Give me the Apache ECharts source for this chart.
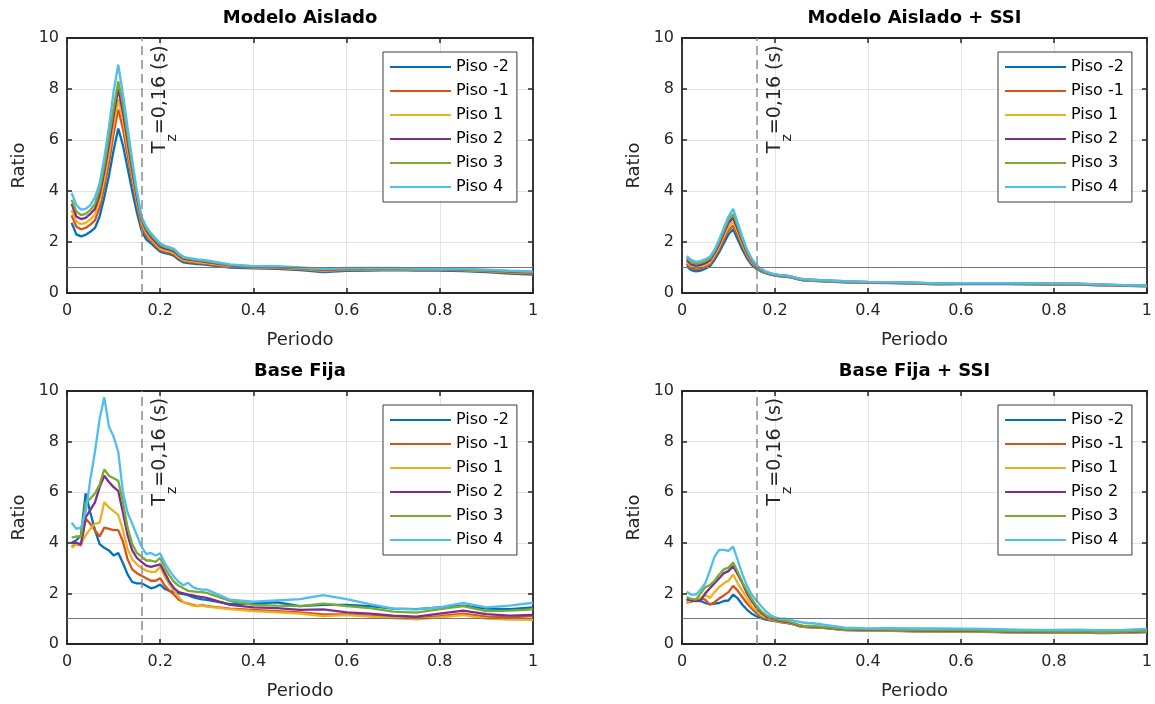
<!DOCTYPE html>
<html>
<head>
<meta charset="utf-8">
<script src="https://cdn.jsdelivr.net/npm/echarts@6/dist/echarts.min.js"></script>
<style>
html,body{margin:0;padding:0;background:#fff;}
#c{width:1155px;height:704px;}
</style>
</head>
<body>
<div id="c"></div>
<script>
// ---------------- data ----------------
const periods = [0.01,0.02,0.03,0.04,0.05,0.06,0.07,0.08,0.09,0.10,
  0.11,0.12,0.13,0.14,0.15,0.16,0.17,0.18,0.19,0.20,
  0.21,0.22,0.23,0.24,0.25,0.26,0.27,0.28,0.29,0.30,
  0.35,0.40,0.45,0.50,0.55,0.60,0.65,0.70,0.75,0.80,0.85,0.90,0.95,1.00];

const floorNames = ['Piso -2','Piso -1','Piso 1','Piso 2','Piso 3','Piso 4'];
const floorColors = ['#0072BD','#D95319','#EDB120','#7E2F8E','#77AC30','#4DBEEE'];
const panelTitles = ['Modelo Aislado','Modelo Aislado + SSI','Base Fija','Base Fija + SSI'];
const xTicks = [0,0.2,0.4,0.6,0.8,1];
const yTicks = [0,2,4,6,8,10];
const tzPeriod = 0.16;
const refRatio = 1;
const tzLabel = '{t|T}{s|z}{t|=0,16 (s)}';
const tzLabelAt = [0.2, 7.6];

// Modelo Aislado (rows follow floorNames)
const aislado = [
 [2.75,2.30,2.22,2.28,2.40,2.55,3.00,3.75,4.60,5.60, 6.45,5.80,4.90,4.00,3.15,2.45,2.10,1.95,1.78,1.62, 1.56,1.52,1.45,1.30,1.20,1.17,1.15,1.13,1.12,1.10, 1.00,0.97,0.95,0.90,0.82,0.87,0.88,0.90,0.88,0.88,0.86,0.82,0.76,0.72],
 [3.05,2.60,2.50,2.55,2.68,2.85,3.35,4.15,5.10,6.25, 7.20,6.45,5.40,4.40,3.45,2.62,2.25,2.05,1.85,1.68, 1.62,1.58,1.50,1.35,1.25,1.22,1.20,1.18,1.16,1.14, 1.03,1.00,0.98,0.93,0.86,0.90,0.91,0.93,0.91,0.91,0.89,0.85,0.79,0.75],
 [3.25,2.80,2.70,2.75,2.88,3.08,3.60,4.45,5.45,6.60, 7.60,6.80,5.70,4.60,3.60,2.75,2.35,2.12,1.92,1.74, 1.67,1.63,1.56,1.40,1.29,1.26,1.24,1.21,1.19,1.17, 1.05,1.01,1.00,0.95,0.88,0.92,0.93,0.94,0.92,0.92,0.90,0.87,0.82,0.78],
 [3.50,3.00,2.90,2.95,3.10,3.30,3.85,4.75,5.80,6.95, 8.00,7.10,5.95,4.80,3.75,2.85,2.45,2.20,2.00,1.82, 1.74,1.70,1.63,1.46,1.34,1.31,1.29,1.26,1.24,1.21, 1.08,1.03,1.02,0.97,0.91,0.94,0.95,0.96,0.94,0.94,0.92,0.89,0.84,0.80],
 [3.65,3.20,3.05,3.10,3.25,3.50,4.05,5.00,6.10,7.25, 8.30,7.40,6.20,5.00,3.88,2.92,2.52,2.28,2.07,1.88, 1.80,1.75,1.68,1.51,1.38,1.35,1.32,1.29,1.27,1.24, 1.10,1.04,1.03,0.98,0.93,0.96,0.96,0.97,0.95,0.95,0.93,0.90,0.86,0.82],
 [3.92,3.45,3.27,3.30,3.45,3.75,4.30,5.30,6.50,7.90, 8.95,7.80,6.50,5.20,4.00,3.00,2.60,2.35,2.15,1.95, 1.85,1.80,1.72,1.55,1.42,1.38,1.35,1.32,1.30,1.28, 1.12,1.05,1.05,1.00,0.95,0.98,0.98,0.98,0.96,0.96,0.95,0.92,0.88,0.85]
];

// Modelo Aislado + SSI
const aisladoSSI = [
 [1.05,0.90,0.85,0.88,0.95,1.05,1.30,1.60,1.95,2.30, 2.50,2.10,1.70,1.35,1.10,0.95,0.85,0.78,0.72,0.68, 0.65,0.64,0.62,0.58,0.53,0.50,0.49,0.48,0.47,0.46, 0.42,0.40,0.39,0.37,0.34,0.35,0.35,0.35,0.34,0.33,0.33,0.30,0.28,0.26],
 [1.15,0.98,0.93,0.96,1.03,1.13,1.40,1.72,2.10,2.45, 2.65,2.25,1.82,1.44,1.16,0.99,0.88,0.80,0.74,0.70, 0.67,0.66,0.64,0.59,0.54,0.51,0.50,0.49,0.48,0.47, 0.43,0.41,0.40,0.38,0.35,0.36,0.36,0.36,0.35,0.34,0.34,0.31,0.29,0.27],
 [1.22,1.05,1.00,1.03,1.10,1.20,1.48,1.82,2.22,2.60, 2.80,2.38,1.92,1.52,1.22,1.02,0.90,0.82,0.75,0.71, 0.68,0.67,0.65,0.60,0.55,0.52,0.51,0.50,0.49,0.48, 0.44,0.42,0.41,0.39,0.36,0.37,0.37,0.37,0.36,0.35,0.35,0.32,0.29,0.27],
 [1.30,1.12,1.07,1.10,1.17,1.28,1.56,1.92,2.35,2.75, 2.95,2.50,2.02,1.58,1.27,1.05,0.92,0.83,0.76,0.72, 0.69,0.68,0.66,0.61,0.56,0.53,0.52,0.51,0.50,0.49, 0.45,0.43,0.42,0.40,0.37,0.38,0.38,0.38,0.37,0.36,0.36,0.33,0.30,0.28],
 [1.38,1.20,1.15,1.18,1.25,1.35,1.63,2.02,2.45,2.88, 3.10,2.62,2.10,1.64,1.31,1.08,0.94,0.84,0.77,0.73, 0.70,0.69,0.66,0.62,0.57,0.54,0.53,0.52,0.51,0.50, 0.46,0.44,0.43,0.41,0.38,0.39,0.39,0.39,0.38,0.37,0.37,0.34,0.31,0.29],
 [1.45,1.30,1.22,1.25,1.32,1.42,1.70,2.10,2.55,3.00, 3.30,2.75,2.20,1.70,1.35,1.10,0.95,0.85,0.78,0.74, 0.70,0.69,0.67,0.62,0.57,0.54,0.53,0.52,0.51,0.50, 0.46,0.44,0.43,0.41,0.38,0.39,0.39,0.39,0.38,0.38,0.37,0.34,0.31,0.29]
];

// Base Fija
const baseFija = [
 [4.00,4.10,4.30,5.95,5.20,4.50,3.95,3.80,3.70,3.50, 3.60,3.20,2.75,2.45,2.40,2.40,2.30,2.20,2.25,2.35, 2.18,2.10,2.05,2.00,1.97,1.93,1.85,1.80,1.76,1.74, 1.58,1.60,1.65,1.50,1.55,1.55,1.50,1.40,1.38,1.45,1.52,1.40,1.38,1.45],
 [3.85,3.95,3.90,4.95,4.75,4.50,4.25,4.60,4.55,4.50, 4.50,4.05,3.35,2.95,2.80,2.70,2.60,2.50,2.50,2.60, 2.30,2.10,1.95,1.75,1.65,1.60,1.55,1.50,1.55,1.50, 1.40,1.35,1.30,1.25,1.17,1.17,1.12,1.08,1.02,1.10,1.20,1.08,1.05,1.10],
 [3.80,3.95,3.95,4.30,4.55,4.75,4.80,5.60,5.40,5.25, 5.10,4.50,3.75,3.35,3.15,3.00,2.90,2.85,2.85,3.05, 2.65,2.35,2.10,1.85,1.65,1.58,1.52,1.50,1.53,1.48, 1.38,1.30,1.25,1.20,1.10,1.14,1.08,1.02,0.97,1.05,1.14,1.00,0.96,0.95],
 [4.00,4.00,3.95,5.00,5.30,5.60,6.20,6.65,6.40,6.20, 6.05,5.20,4.30,3.70,3.40,3.25,3.10,3.05,3.10,3.15, 2.80,2.45,2.20,2.05,2.00,1.95,1.92,1.88,1.85,1.82, 1.55,1.45,1.42,1.35,1.37,1.25,1.20,1.12,1.08,1.20,1.32,1.18,1.12,1.15],
 [4.20,4.25,4.25,5.60,5.75,5.95,6.30,6.90,6.65,6.55, 6.45,5.60,4.60,3.95,3.60,3.45,3.30,3.30,3.25,3.40, 3.00,2.70,2.45,2.30,2.20,2.10,2.08,2.06,2.05,2.02, 1.70,1.55,1.52,1.50,1.60,1.50,1.42,1.28,1.24,1.38,1.50,1.30,1.32,1.37],
 [4.80,4.55,4.60,5.20,6.50,7.60,8.90,9.75,8.60,8.20, 7.60,6.00,5.20,4.75,4.30,3.85,3.55,3.60,3.50,3.58, 3.20,2.90,2.65,2.45,2.32,2.42,2.25,2.18,2.15,2.15, 1.75,1.67,1.72,1.77,1.93,1.77,1.58,1.40,1.37,1.45,1.63,1.45,1.52,1.63]
];

// Base Fija + SSI
const baseFijaSSI = [
 [1.70,1.68,1.72,1.70,1.62,1.58,1.60,1.62,1.70,1.72, 1.95,1.80,1.55,1.35,1.20,1.10,1.02,0.96,0.93,0.90, 0.87,0.85,0.82,0.78,0.72,0.68,0.67,0.66,0.66,0.65, 0.55,0.53,0.52,0.50,0.49,0.50,0.48,0.46,0.45,0.44,0.45,0.43,0.44,0.47],
 [1.62,1.68,1.72,1.80,1.75,1.55,1.65,1.80,1.92,2.05, 2.30,2.10,1.85,1.60,1.40,1.22,1.08,1.00,0.95,0.91, 0.88,0.86,0.83,0.78,0.72,0.68,0.67,0.66,0.66,0.65, 0.56,0.54,0.53,0.51,0.50,0.51,0.49,0.47,0.46,0.45,0.46,0.44,0.45,0.48],
 [1.65,1.70,1.75,1.82,1.95,1.82,2.05,2.25,2.40,2.50, 2.75,2.40,2.10,1.80,1.50,1.32,1.15,1.05,0.98,0.93, 0.89,0.87,0.84,0.79,0.73,0.69,0.68,0.67,0.67,0.66, 0.56,0.54,0.53,0.51,0.50,0.51,0.49,0.47,0.46,0.45,0.46,0.44,0.45,0.48],
 [1.78,1.72,1.70,1.72,2.00,2.20,2.40,2.60,2.80,2.88, 3.08,2.75,2.40,2.00,1.70,1.45,1.25,1.10,1.02,0.96, 0.91,0.89,0.86,0.81,0.75,0.71,0.70,0.69,0.68,0.67, 0.58,0.56,0.55,0.53,0.52,0.53,0.51,0.49,0.48,0.47,0.48,0.46,0.47,0.50],
 [1.85,1.78,1.75,2.00,2.25,2.33,2.50,2.75,2.95,3.02, 3.22,2.85,2.45,2.10,1.78,1.52,1.30,1.15,1.05,0.99, 0.94,0.92,0.88,0.83,0.77,0.73,0.72,0.71,0.70,0.69, 0.60,0.58,0.57,0.55,0.54,0.55,0.53,0.51,0.50,0.49,0.50,0.48,0.49,0.52],
 [2.07,1.95,1.95,2.15,2.40,2.90,3.45,3.72,3.72,3.68, 3.85,3.30,2.75,2.30,1.95,1.72,1.50,1.30,1.15,1.05, 1.00,1.00,0.97,0.92,0.88,0.85,0.83,0.82,0.80,0.78, 0.65,0.62,0.63,0.62,0.62,0.61,0.60,0.58,0.56,0.56,0.57,0.55,0.56,0.60]
];

// ---------------- chart ----------------
const FONT = 'DejaVu Sans';
const INK = '#262626';
const panelData = [aislado, aisladoSSI, baseFija, baseFijaSSI];
const gridBoxes = [
  {left:67,  top:38,  width:466, height:255},
  {left:682, top:38,  width:466, height:255},
  {left:67,  top:391, width:466, height:253},
  {left:682, top:391, width:466, height:253}
];

const option = {
  animation:false,
  backgroundColor:'#ffffff',
  grid:[], xAxis:[], yAxis:[], legend:[], series:[]
};

const axisLineStyle = {show:true, onZero:false, lineStyle:{color:INK, width:1.8}};
const tickStyle = {show:true, inside:true, length:5, lineStyle:{color:INK, width:1.5}};

panelData.forEach((ratios, i) => {
  const g = gridBoxes[i];
  option.grid.push({left:g.left, top:g.top, width:g.width, height:g.height});
  const xBase = {type:'value', gridIndex:i, min:xTicks[0], max:xTicks[xTicks.length-1], interval:xTicks[1]-xTicks[0]};
  const yBase = {type:'value', gridIndex:i, min:yTicks[0], max:yTicks[yTicks.length-1], interval:yTicks[1]-yTicks[0]};
  option.xAxis.push(Object.assign({}, xBase, {
    position:'bottom',
    name:'Periodo', nameLocation:'middle', nameGap:38,
    nameTextStyle:{fontFamily:FONT, fontSize:18, color:INK},
    axisLine:axisLineStyle, axisTick:tickStyle,
    axisLabel:{show:true, margin:10, fontFamily:FONT, fontSize:16, color:INK, formatter:v => String(+v.toFixed(2))},
    splitLine:{show:true, lineStyle:{color:'#e3e3e3', width:1}}
  }));
  option.xAxis.push(Object.assign({}, xBase, {
    position:'top',
    name:panelTitles[i], nameLocation:'middle', nameGap:11,
    nameTextStyle:{fontFamily:FONT, fontSize:18, fontWeight:'bold', color:'#000'},
    axisLine:axisLineStyle, axisTick:tickStyle,
    axisLabel:{show:false}, splitLine:{show:false}
  }));
  option.yAxis.push(Object.assign({}, yBase, {
    position:'left',
    name:'Ratio', nameLocation:'middle', nameGap:39, nameRotate:90,
    nameTextStyle:{fontFamily:FONT, fontSize:18, color:INK},
    axisLine:axisLineStyle, axisTick:tickStyle,
    axisLabel:{show:true, margin:8, fontFamily:FONT, fontSize:16, color:INK},
    splitLine:{show:true, lineStyle:{color:'#e3e3e3', width:1}}
  }));
  option.yAxis.push(Object.assign({}, yBase, {
    position:'right',
    axisLine:axisLineStyle, axisTick:tickStyle,
    axisLabel:{show:false}, splitLine:{show:false}
  }));

  ratios.forEach((vals, j) => {
    const s = {
      type:'line', name:floorNames[j],
      xAxisIndex:2*i, yAxisIndex:2*i,
      data: periods.map((p, k) => [p, vals[k]]),
      showSymbol:false, symbol:'none', silent:true,
      color:floorColors[j],
      lineStyle:{color:floorColors[j], width:2.3},
      z:3
    };
    if (j === 0) {
      s.markLine = {
        silent:true, symbol:['none','none'], label:{show:false}, animation:false,
        data:[
          {yAxis:refRatio, lineStyle:{color:'#767676', width:1.2, type:'solid'}},
          {xAxis:tzPeriod, lineStyle:{color:'#8c8c8c', width:1.5, type:[9,5]}}
        ]
      };
      s.markPoint = {
        silent:true, symbol:'circle', symbolSize:1, itemStyle:{color:'rgba(0,0,0,0)'}, animation:false,
        data:[{
          coord:tzLabelAt,
          label:{
            show:true, position:'inside', rotate:90,
            formatter:tzLabel,
            rich:{
              t:{fontFamily:FONT, fontSize:19, lineHeight:38, color:INK},
              s:{fontFamily:FONT, fontSize:14, lineHeight:14, verticalAlign:'bottom', color:INK}
            }
          }
        }]
      };
    }
    option.series.push(s);
  });

  option.legend.push({
    orient:'vertical', left:g.left + 316, top:g.top + 14,
    padding:[7,8,7,7], itemGap:8, itemWidth:61, itemHeight:2, icon:'rect',
    backgroundColor:'#ffffff', borderColor:'#3a3a3a', borderWidth:1, borderRadius:0,
    selectedMode:false,
    textStyle:{fontFamily:FONT, fontSize:16, color:'#000', lineHeight:16},
    data:floorNames
  });
});

const chart = echarts.init(document.getElementById('c'), null, {renderer:'canvas'});
chart.setOption(option);
</script>
</body>
</html>
